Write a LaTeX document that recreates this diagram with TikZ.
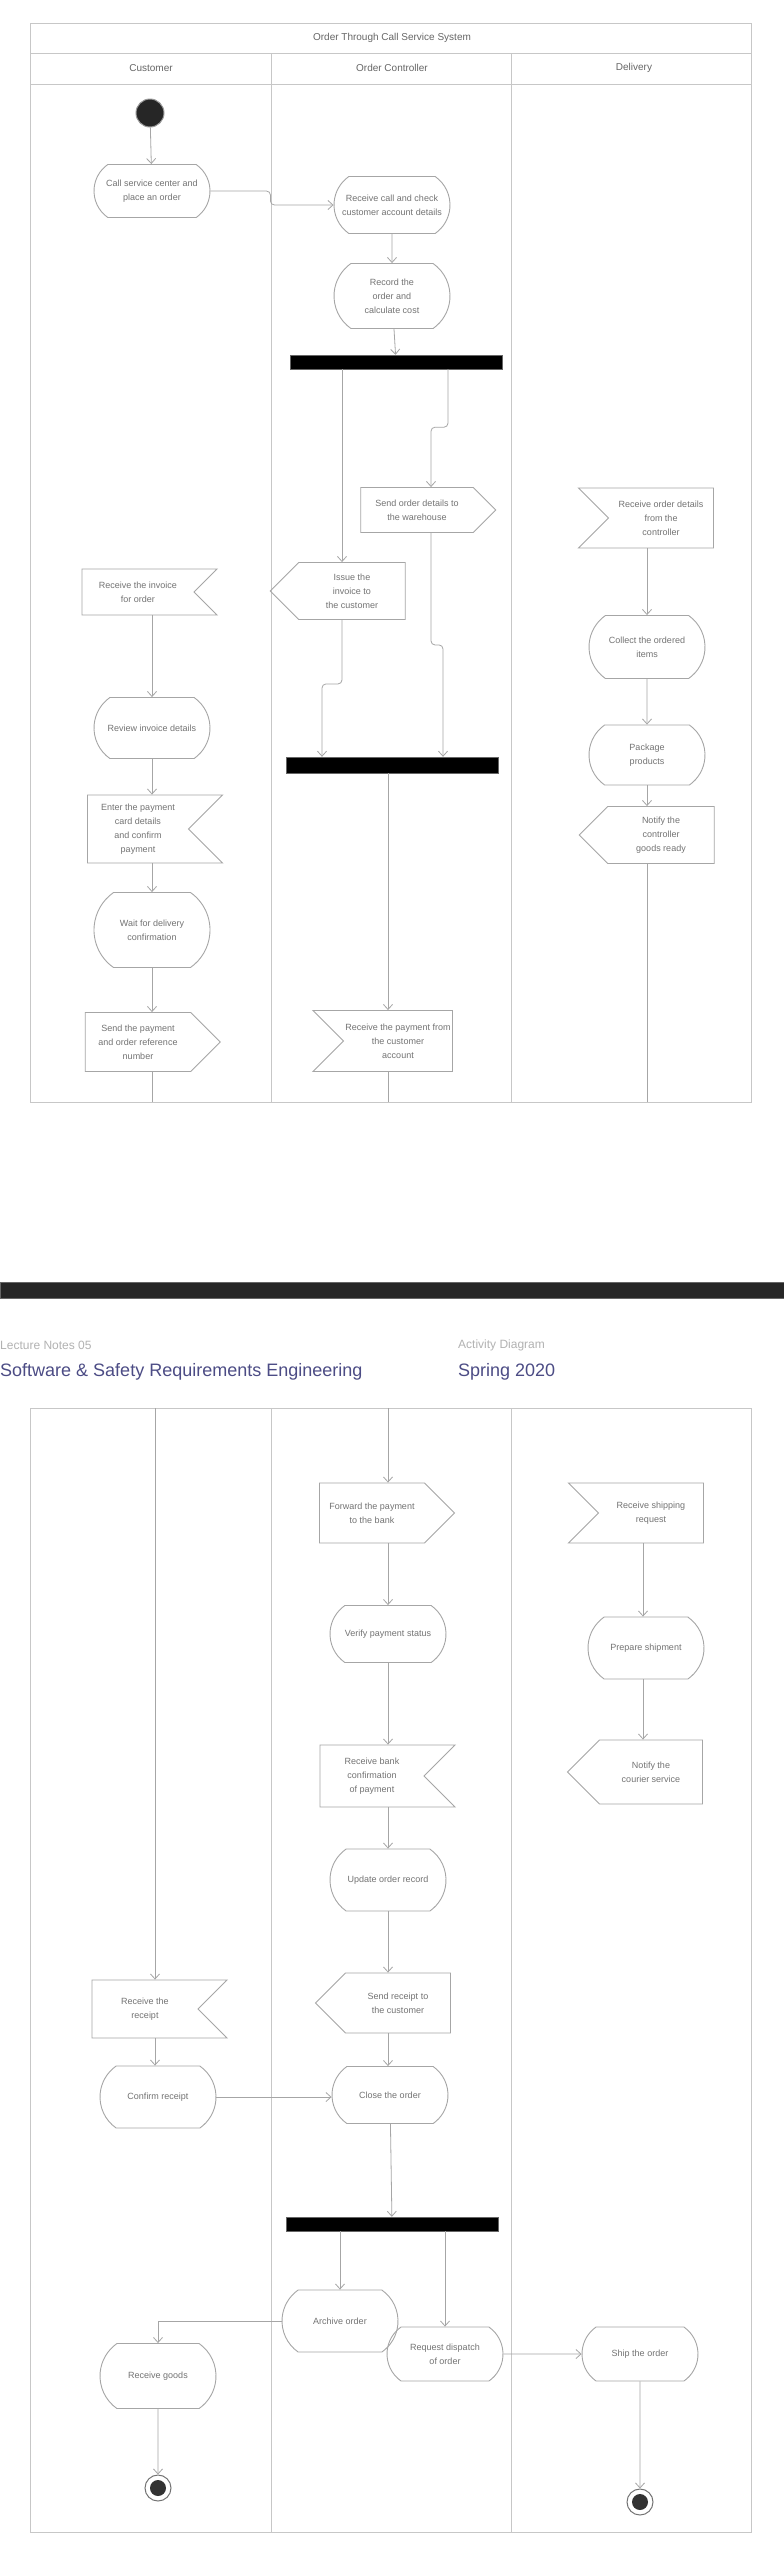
\documentclass[tikz,border=0pt]{standalone}
\usepackage{fontspec}
\setmainfont{Liberation Sans}
\usetikzlibrary{arrows.meta,positioning,calc,shapes.misc,shapes.symbols}

\begin{document}
\begin{tikzpicture}[x=1pt,y=-1pt,
  lane/.style={draw=black!22, line width=0.9pt},
  action/.style={rounded rectangle, rounded rectangle arc length=110, draw=black!35, line width=0.9pt,
    minimum width=120pt, minimum height=58pt, inner sep=2pt, align=center,
    font=\fontsize{9}{14}\selectfont, text=black!55},
  sig/.style={signal, draw=black!35, line width=0.9pt, minimum width=135pt, minimum height=56pt,
    inner sep=2pt, align=center, font=\fontsize{9}{14}\selectfont, text=black!55},
  sendr/.style={sig, signal to=east, signal from=nowhere, xshift=-13pt},
  sendl/.style={sig, signal to=west, signal from=nowhere, xshift=13pt},
  acceptl/.style={sig, signal to=nowhere, signal from=west, xshift=13pt},
  acceptr/.style={sig, signal to=nowhere, signal from=east, xshift=-13pt},
  bar/.style={rectangle, fill=black, draw=black!60, minimum width=212pt, minimum height=14pt, inner sep=0pt},
  initial/.style={circle, fill=black!85, draw=black!40, line width=1pt, minimum size=28pt, inner sep=0pt},
  final/.style={circle, draw=black!55, line width=1pt, fill=white, minimum size=26pt, inner sep=0pt,
    path picture={\fill[black!80] (path picture bounding box.center) circle (8pt);}},
  flow/.style={draw=black!35, line width=0.8pt, -{Straight Barb[length=5pt,width=9pt]}},
  line/.style={draw=black!35, line width=0.8pt},
  hdr/.style={font=\fontsize{10}{12}\selectfont, text=black!60},
  foot/.style={font=\fontsize{18}{20}\selectfont, text=black!45!blue!40!gray, anchor=west, inner sep=0pt},
  subfoot/.style={font=\fontsize{12}{14}\selectfont, text=black!30, anchor=west, inner sep=0pt}
]
\useasboundingbox (0,0) rectangle (784,2562);
\fill[white] (0,0) rectangle (784,2562);

% first page frame and lanes
\draw[lane] (30,23) rectangle (751,1102);
\draw[lane] (30,53) -- (751,53);
\draw[lane] (30,84) -- (751,84);
\draw[lane] (271,53) -- (271,1102);
\draw[lane] (511,53) -- (511,1102);
\node[hdr] (title) at (392,38) {Order Through Call Service System};
\node[hdr] (lanecust) at (151,68) {Customer};
\node[hdr] (lanectrl) at (392,68) {Order Controller};
\node[hdr] (lanedel) at (634,68) {Delivery};

% flow columns
\coordinate (xA) at (152,0);
\coordinate (xB) at (388,0);
\coordinate (xC) at (647,0);
\coordinate (xL1) at (342,0);
\coordinate (xL2) at (322,0);
\coordinate (xR1) at (448,0);
\coordinate (xR2) at (431,0);
\coordinate (xR3) at (443,0);

% customer lane
\node[initial] (start) at (150,113) {};
\node[action, minimum height=53pt] (a1) at (152,191) {Call service center and\\place an order};
\node[acceptr, minimum height=46pt] (s6) at (151,592) {Receive the invoice\\for order};
\node[action, minimum height=61pt] (a6) at (152,728) {Review invoice details};
\node[acceptr, minimum height=68pt] (s7) at (151,829) {Enter the payment\\card details\\and confirm\\payment};
\node[action, minimum height=75pt] (a7) at (152,930) {Wait for delivery\\confirmation};
\node[sendr, minimum height=59pt] (s8) at (151,1042) {Send the payment\\and order reference\\number};
\coordinate (cut1) at (152,1102);

% controller lane
\node[action, minimum height=57pt] (a2) at (392,205) {Receive call and check\\customer account details};
\node[action, minimum height=65pt] (a3) at (392,296) {Record the\\order and\\calculate cost};
\node[bar] (fork1) at (396,362) {};
\node[sendr, minimum height=45pt] (s1) at (430,510) {Send order details to\\the warehouse};
\node[sendl, minimum height=57pt] (s2) at (339,591) {Issue the\\invoice to\\the customer};
\node[bar, minimum height=16pt] (join1) at (392,765) {};
\node[acceptl, minimum height=61pt] (s3) at (385,1041) {Receive the payment from\\the customer\\account};
\coordinate (cut2) at (388,1102);

% delivery lane
\node[acceptl, minimum height=60pt] (s4) at (648,518) {Receive order details\\from the\\controller};
\node[action, minimum height=63pt] (a4) at (647,647) {Collect the ordered\\items};
\node[action, minimum height=60pt] (a5) at (647,755) {Package\\products};
\node[sendl, minimum height=57pt] (s5) at (648,835) {Notify the\\controller\\goods ready};
\coordinate (cut3) at (647,1102);

\draw[flow] (start) -- (a1);
\draw[flow, rounded corners=4pt] (a1.east) -- ++(60,0) |- (a2.west);
\draw[flow] (a2) -- (a3);
\draw[flow] (a3) -- (fork1);
\draw[flow, rounded corners=4pt] (fork1.south -| xR1) -- ++(0,58) -| (s1.north -| xR2);
\draw[flow] (fork1.south -| xL1) -- (s2.north -| xL1);
\draw[flow, rounded corners=4pt] (s2.south -| xL1) -- ++(0,64) -| (join1.north -| xL2);
\draw[flow, rounded corners=4pt] (s1.south -| xR2) -- ++(0,112) -| (join1.north -| xR3);
\draw[flow] (join1.south -| xB) -- (s3.north -| xB);
\draw[line] (s3.south -| xB) -- (cut2);
\draw[flow] (s4.south -| xC) -- (a4.north -| xC);
\draw[flow] (a4) -- (a5);
\draw[flow] (a5.south -| xC) -- (s5.north -| xC);
\draw[line] (s5.south -| xC) -- (cut3);
\draw[flow] (s6.south -| xA) -- (a6.north -| xA);
\draw[flow] (a6.south -| xA) -- (s7.north -| xA);
\draw[flow] (s7.south -| xA) -- (a7.north -| xA);
\draw[flow] (a7.south -| xA) -- (s8.north -| xA);
\draw[line] (s8.south -| xA) -- (cut1);

% page break
\node[rectangle, fill=black!85, draw=black!60, minimum width=784pt, minimum height=16pt, inner sep=0pt] (pagebar) at (392,1290) {};
\node[subfoot] (author) at (0,1345) {Lecture Notes 05};
\node[foot] (course) at (0,1372) {Software \& Safety Requirements Engineering};
\node[subfoot] (chapter) at (458,1345) {Activity Diagram};
\node[foot] (term) at (458,1372) {Spring 2020};

% second page frame and lanes
\draw[lane] (30,1408) rectangle (751,2532);
\draw[lane] (271,1408) -- (271,2532);
\draw[lane] (511,1408) -- (511,2532);
\coordinate (xA2) at (155,0);
\coordinate (xC2) at (643,0);
\coordinate (top1) at (155,1408);
\coordinate (top2) at (388,1408);

% controller lane
\node[sendr, minimum height=60pt] (t1) at (385,1513) {Forward the payment\\to the bank};
\node[action, minimum height=57pt] (t2) at (388,1634) {Verify payment status};
\node[acceptr, minimum height=62pt] (t3) at (385,1776) {Receive bank\\confirmation\\of payment};
\node[action, minimum height=62pt] (t4) at (388,1880) {Update order record};
\node[sendl, minimum height=60pt] (t5) at (385,2003) {Send receipt to\\the customer};
\node[action, minimum height=57pt] (t6) at (390,2095) {Close the order};
\node[bar] (fork2) at (392,2224) {};
\node[action, minimum height=62pt] (t7) at (340,2321) {Archive order};
\node[action, minimum height=54pt] (t8) at (445,2354) {Request dispatch\\of order};

% delivery lane
\node[acceptl, minimum height=60pt] (u1) at (638,1513) {Receive shipping\\request};
\node[action, minimum height=62pt] (u2) at (646,1648) {Prepare shipment};
\node[sendl, minimum height=64pt] (u3) at (638,1772) {Notify the\\courier service};
\node[action, minimum height=54pt] (u4) at (640,2354) {Ship the order};
\node[final] (u5) at (640,2502) {};

% customer lane
\node[acceptr, minimum height=58pt] (v1) at (158,2009) {Receive the\\receipt};
\node[action, minimum height=62pt] (v2) at (158,2097) {Confirm receipt};
\node[action, minimum height=65pt] (v3) at (158,2376) {Receive goods};
\node[final] (v4) at (158,2488) {};

\draw[flow] (top2) -- (t1.north -| xB);
\draw[flow] (t1.south -| xB) -- (t2.north -| xB);
\draw[flow] (t2.south -| xB) -- (t3.north -| xB);
\draw[flow] (t3.south -| xB) -- (t4.north -| xB);
\draw[flow] (t4.south -| xB) -- (t5.north -| xB);
\draw[flow] (t5.south -| xB) -- (t6.north -| xB);
\draw[flow] (t6) -- (fork2);
\draw[flow] (fork2.south -| t7.north) -- (t7.north);
\draw[flow] (fork2.south -| t8.north) -- (t8.north);
\draw[flow] (t7.west) -| (v3.north);
\draw[flow] (t8) -- (u4);
\draw[flow] (u4) -- (u5);
\draw[flow] (u1.south -| xC2) -- (u2.north -| xC2);
\draw[flow] (u2.south -| xC2) -- (u3.north -| xC2);
\draw[flow] (top1) -- (v1.north -| xA2);
\draw[flow] (v1.south -| xA2) -- (v2.north -| xA2);
\draw[flow] (v2.east) -- (v2.east -| t6.west);
\draw[flow] (v3) -- (v4);
\end{tikzpicture}
\end{document}
